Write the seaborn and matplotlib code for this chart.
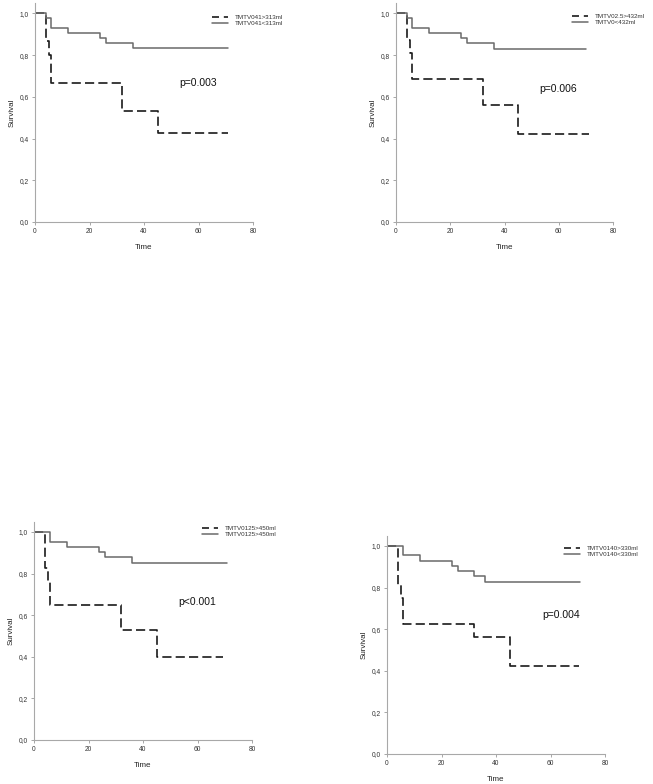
import matplotlib
matplotlib.use("Agg")
import matplotlib.pyplot as plt
import seaborn as sns
import pandas as pd
from matplotlib.ticker import FuncFormatter

# panel 1: TMTV041
p1_time_hi = [0, 4, 5, 6, 32, 45, 71]
p1_surv_hi = [1.0, 0.867, 0.80, 0.667, 0.533, 0.427, 0.427]
p1_time_lo = [0, 4, 6, 12, 24, 26, 36, 71]
p1_surv_lo = [1.0, 0.977, 0.930, 0.907, 0.884, 0.860, 0.835, 0.835]
p1_labels = ["TMTV041>313ml", "TMTV041<313ml"]
p1_pval = "p=0.003"

# panel 2: TMTV02.5
p2_time_hi = [0, 4, 5, 6, 32, 45, 71]
p2_surv_hi = [1.0, 0.875, 0.812, 0.688, 0.563, 0.422, 0.422]
p2_time_lo = [0, 4, 6, 12, 24, 26, 36, 70]
p2_surv_lo = [1.0, 0.976, 0.930, 0.907, 0.883, 0.860, 0.830, 0.830]
p2_labels = ["TMTV02.5>432ml", "TMTV0<432ml"]
p2_pval = "p=0.006"

# panel 3: TMTV0125
p3_time_hi = [0, 4, 5, 6, 32, 45, 69.5]
p3_surv_hi = [1.0, 0.829, 0.766, 0.647, 0.529, 0.399, 0.399]
p3_time_lo = [0, 6, 12, 24, 26, 36, 71]
p3_surv_lo = [1.0, 0.950, 0.929, 0.904, 0.878, 0.850, 0.850]
p3_labels = ["TMTV0125>450ml", "TMTV0125>450ml"]
p3_pval = "p<0.001"

# panel 4: TMTV0140
p4_time_hi = [0, 4, 5, 6, 32, 45, 70.5]
p4_surv_hi = [1.0, 0.812, 0.750, 0.625, 0.562, 0.422, 0.422]
p4_time_lo = [0, 6, 12, 24, 26, 32, 36, 71]
p4_surv_lo = [1.0, 0.955, 0.928, 0.906, 0.882, 0.856, 0.827, 0.827]
p4_labels = ["TMTV0140>330ml", "TMTV0140<330ml"]
p4_pval = "p=0.004"

sns.set_style("ticks")
plt.rcParams["font.family"] = ["Liberation Sans", "DejaVu Sans"]

fig = plt.figure(figsize=(6.53, 7.84), dpi=100)
W, H = 653, 784


def make_ax(left, top, right, bottom):
    return fig.add_axes([left / W, 1 - bottom / H, (right - left) / W, (bottom - top) / H])


panels = [
    # data, axes box in px, p-value position, legend anchor
    (p1_time_hi, p1_surv_hi, p1_time_lo, p1_surv_lo, p1_labels, p1_pval,
     (35, 3, 253, 222), (53.0, 0.665), (0.81, 0.948)),
    (p2_time_hi, p2_surv_hi, p2_time_lo, p2_surv_lo, p2_labels, p2_pval,
     (396, 3, 613, 222), (52.7, 0.637), (0.81, 0.952)),
    (p3_time_hi, p3_surv_hi, p3_time_lo, p3_surv_lo, p3_labels, p3_pval,
     (34, 521.6, 252, 740), (52.8, 0.665), (0.77, 0.98)),
    (p4_time_hi, p4_surv_hi, p4_time_lo, p4_surv_lo, p4_labels, p4_pval,
     (387, 535.6, 605, 754), (56.9, 0.670), (0.81, 0.955)),
]

comma = FuncFormatter(lambda v, _: f"{v:.1f}".replace(".", ","))

for t_hi, s_hi, t_lo, s_lo, labels, pval, box, ppos, lpos in panels:
    ax = make_ax(*box)
    df_hi = pd.DataFrame({"Time": t_hi, "Survival": s_hi})
    df_lo = pd.DataFrame({"Time": t_lo, "Survival": s_lo})
    sns.lineplot(data=df_hi, x="Time", y="Survival", ax=ax, estimator=None,
                 drawstyle="steps-post", color="#1a1a1a", lw=1.2,
                 label=labels[0])
    ax.lines[-1].set_dashes((5.5, 2.5))
    sns.lineplot(data=df_lo, x="Time", y="Survival", ax=ax, estimator=None,
                 drawstyle="steps-post", color="#6a6a6a", lw=1.1,
                 label=labels[1])

    ax.set_xlim(0, 80)
    ax.set_ylim(0, 1.05)
    ax.set_xticks([0, 20, 40, 60, 80])
    ax.set_yticks([0, 0.2, 0.4, 0.6, 0.8, 1.0])
    ax.yaxis.set_major_formatter(comma)
    ax.tick_params(labelsize=4.8, length=2.5, width=0.6, color="#999999",
                   labelcolor="#333333", pad=2)
    for side in ["top", "right"]:
        ax.spines[side].set_visible(False)
    for side in ["left", "bottom"]:
        ax.spines[side].set_color("#a8a8a8")
        ax.spines[side].set_linewidth(0.8)
    ax.set_xlabel("Time", fontsize=5.8, color="#222222", labelpad=6)
    ax.set_ylabel("Survival", fontsize=5.8, color="#222222", labelpad=3)

    ax.text(ppos[0], ppos[1], pval, fontsize=7.5, color="#111111", va="center")

    leg = ax.legend(loc="upper left", bbox_to_anchor=lpos, frameon=False,
                    fontsize=4.5, handlelength=2.6, handletextpad=1.1,
                    borderpad=0, borderaxespad=0, labelspacing=0.1)
    leg.legend_handles[0].set_dashes((4.2, 2.9))
    for txt in leg.get_texts():
        txt.set_color("#333333")

fig.savefig("out.png", dpi=100)
